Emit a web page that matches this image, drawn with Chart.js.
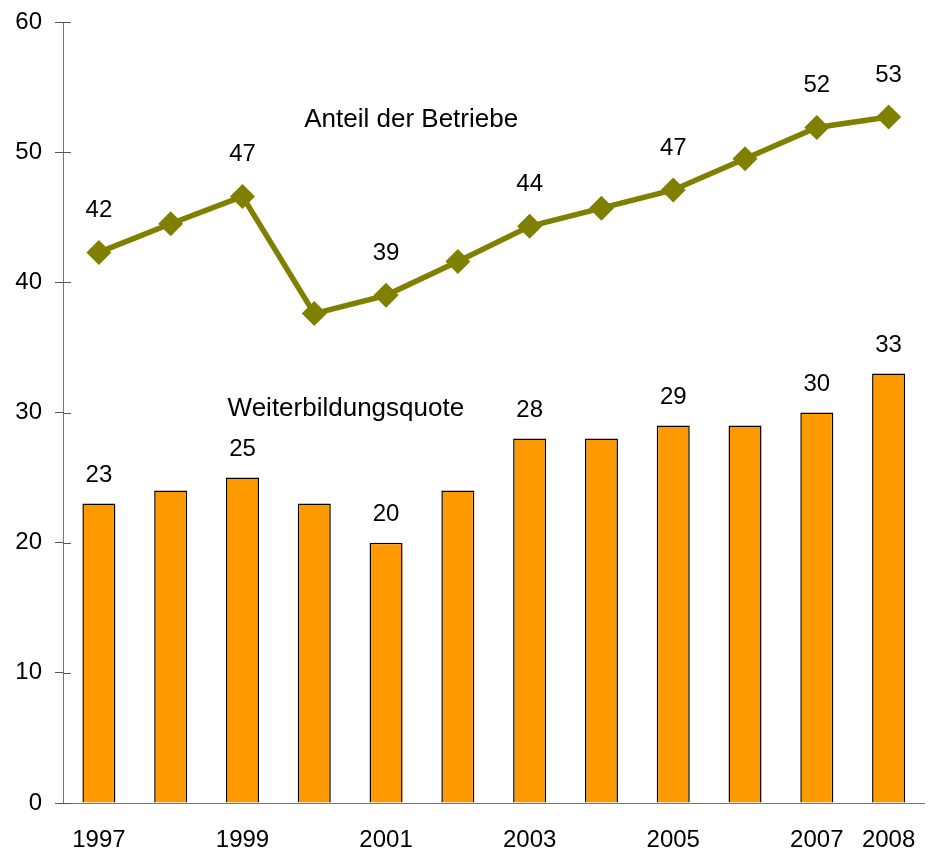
<!DOCTYPE html>
<html lang="de">
<head>
    <meta charset="UTF-8">
    <title>Weiterbildung</title>
    <style>
        body {
            margin: 0;
            padding: 0;
            background-color: #fff;
        }
        canvas {
            display: block;
        }
    </style>
    <script src="https://cdn.jsdelivr.net/npm/chart.js"></script>
</head>
<body>
    <canvas id="chart" width="937" height="851"></canvas>

    <script>
        // Data
        const years = ['1997', '1998', '1999', '2000', '2001', '2002', '2003', '2004', '2005', '2006', '2007', '2008'];
        const shownYears = ['1997', '1999', '2001', '2003', '2005', '2007', '2008'];
        const weiterbildungsquote = [23, 24, 25, 23, 20, 24, 28, 28, 29, 29, 30, 33];
        const anteilBetriebe = [42.3, 44.5, 46.6, 37.6, 39.0, 41.6, 44.3, 45.7, 47.1, 49.5, 51.9, 52.7];
        const labelledYears = ['1997', '1999', '2001', '2003', '2005', '2007', '2008'];
        const yTicks = [0, 10, 20, 30, 40, 50, 60];

        const font = 'Liberation Sans, Arial, sans-serif';

        // value labels, series names and the inner half of the y ticks
        const annotations = {
            id: 'annotations',
            afterDatasetsDraw(chart) {
                const ctx = chart.ctx;
                const x = chart.scales.x;
                const y = chart.scales.y;
                ctx.save();
                ctx.fillStyle = '#000';
                ctx.font = '24px ' + font;
                ctx.textAlign = 'center';
                ctx.textBaseline = 'middle';
                labelledYears.forEach(function (yr) {
                    const i = years.indexOf(yr);
                    const px = x.getPixelForValue(i);
                    ctx.fillText(String(Math.round(weiterbildungsquote[i])), px, y.getPixelForValue(weiterbildungsquote[i]) - 28);
                    ctx.fillText(String(Math.round(anteilBetriebe[i])), px, y.getPixelForValue(anteilBetriebe[i]) - 42);
                });
                ctx.font = '26px ' + font;
                ctx.fillText('Anteil der Betriebe', x.getPixelForValue(4.35), y.getPixelForValue(52.5));
                ctx.fillText('Weiterbildungsquote', x.getPixelForValue(3.44), y.getPixelForValue(30.3));

                // ticks cross the axis
                ctx.strokeStyle = '#555';
                ctx.lineWidth = 1;
                ctx.beginPath();
                yTicks.forEach(function (v) {
                    const py = Math.round(y.getPixelForValue(v)) + 0.5;
                    ctx.moveTo(chart.chartArea.left, py);
                    ctx.lineTo(chart.chartArea.left + 8, py);
                });
                ctx.stroke();
                ctx.restore();
            }
        };

        const ctx = document.getElementById('chart').getContext('2d');
        new Chart(ctx, {
            data: {
                labels: years,
                datasets: [{
                    type: 'line',
                    label: 'Anteil der Betriebe',
                    data: anteilBetriebe,
                    borderColor: '#808000',
                    backgroundColor: '#808000',
                    borderWidth: 5.5,
                    pointStyle: 'rectRot',
                    pointRadius: 12.5,
                    pointHoverRadius: 12.5,
                    pointBorderWidth: 0,
                    tension: 0,
                    order: 1
                }, {
                    type: 'bar',
                    label: 'Weiterbildungsquote',
                    data: weiterbildungsquote,
                    backgroundColor: '#FF9900',
                    borderColor: '#000',
                    borderWidth: 1.5,
                    categoryPercentage: 0.92,
                    barPercentage: 0.5,
                    order: 2
                }]
            },
            options: {
                responsive: false,
                animation: false,
                layout: {
                    padding: { top: 22, right: -4, bottom: 0, left: 0 }
                },
                plugins: {
                    legend: { display: false },
                    tooltip: { enabled: false }
                },
                scales: {
                    x: {
                        afterFit: function (scale) {
                            scale.height = 48;
                            scale.paddingLeft = 0;
                            scale.paddingRight = 0;
                        },
                        grid: { display: false, drawTicks: false, tickLength: 0 },
                        border: { display: true, color: '#777', width: 1 },
                        ticks: {
                            autoSkip: false,
                            maxRotation: 0,
                            padding: 23,
                            color: '#000',
                            font: { family: font, size: 24 },
                            callback: function (value, index) {
                                return shownYears.includes(years[index]) ? years[index] : '';
                            }
                        }
                    },
                    y: {
                        min: 0,
                        max: 60,
                        afterFit: function (scale) {
                            scale.width = 63;
                            scale.paddingTop = 0;
                            scale.paddingBottom = 0;
                        },
                        afterBuildTicks: function (scale) {
                            scale.ticks = yTicks.map(function (v) { return { value: v }; });
                        },
                        grid: {
                            drawOnChartArea: false,
                            drawTicks: true,
                            tickLength: 8,
                            color: '#555'
                        },
                        border: { display: true, color: '#777', width: 1 },
                        ticks: {
                            padding: 13,
                            color: '#000',
                            font: { family: font, size: 24 }
                        }
                    }
                }
            },
            plugins: [annotations]
        });
    </script>
</body>
</html>
